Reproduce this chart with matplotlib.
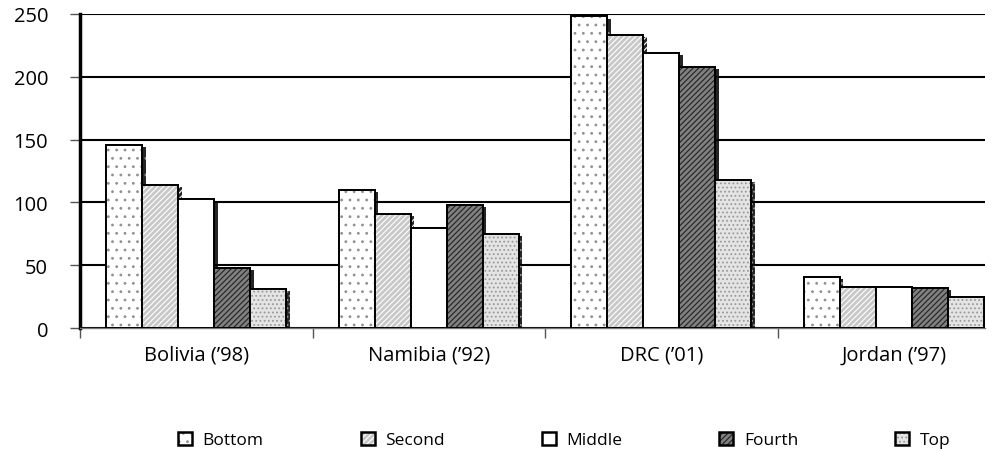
import matplotlib
matplotlib.use("Agg")
import matplotlib.pyplot as plt
import matplotlib.patheffects as pe
from matplotlib.patches import Patch
import numpy as np

plt.rcParams['font.family'] = ['Open Sans', 'DejaVu Sans']
plt.rcParams['hatch.linewidth'] = 0.8

categories = ["Bolivia (’98)", "Namibia (’92)", "DRC (’01)", "Jordan (’97)"]
series_names = ["Bottom", "Second", "Middle", "Fourth", "Top"]
bottom = [146, 110, 248, 41]
second = [114, 91, 233, 33]
middle = [103, 80, 219, 33]
fourth = [48, 98, 208, 32]
top = [31, 75, 118, 25]
values = [bottom, second, middle, fourth, top]
yticks = [0, 50, 100, 150, 200, 250]

faces = ['white', '#c8c8c8', 'white', '#808080', '#e4e4e4']
hatches = ['..', '//////', '', '//////', '....']
hatch_cols = ['#909090', '#ffffff', 'black', '#222222', '#9a9a9a']

fig = plt.figure(figsize=(10.04, 4.52), dpi=100)
ax = fig.add_axes([0.0797, 0.272, 0.901, 0.695])

x = np.arange(len(categories))
w = 0.155
for i, vals in enumerate(values):
    pos = x + (i - 2) * w
    bars = ax.bar(pos, vals, width=w, facecolor=faces[i], edgecolor='black',
                  linewidth=1.4, hatch=hatches[i], zorder=3,
                  path_effects=[pe.withSimplePatchShadow(offset=(2.5, -1.5), shadow_rgbFace='black', alpha=0.85), pe.Normal()])
    for b in bars:
        b._hatch_color = matplotlib.colors.to_rgba(hatch_cols[i])

ax.set_xlim(-0.5, 3.39)
ax.set_ylim(0, 250)
ax.set_yticks(yticks)
ax.set_yticklabels([str(t) for t in yticks], fontsize=14.5)
ax.tick_params(axis='y', length=7, width=1, direction='out', pad=16, color='#555555')
ax.yaxis.grid(True, color='black', linewidth=1.5, zorder=0)
ax.set_axisbelow(True)

ax.set_xticks(x)
ax.set_xticklabels(categories, fontsize=14.5)
ax.tick_params(axis='x', length=0, pad=12)
ax.set_xticks(np.arange(len(categories)) - 0.5, minor=True)
ax.tick_params(axis='x', which='minor', length=7, width=1, color='#555555')

for s in ['top', 'right']:
    ax.spines[s].set_visible(False)
ax.spines['left'].set_linewidth(2.5)
ax.spines['bottom'].set_linewidth(1)
ax.spines['bottom'].set_color('#777777')

handles = []
for i in range(5):
    p = Patch(facecolor=faces[i], edgecolor='black', hatch=hatches[i], linewidth=1.8, label=series_names[i])
    handles.append(p)
leg = fig.legend(handles=handles, loc='center', bbox_to_anchor=(0.562, 0.024), ncol=5,
                 frameon=False, fontsize=12.5, handlelength=0.8, handleheight=0.8,
                 columnspacing=5.6, handletextpad=0.6)
for i, p in enumerate(leg.get_patches()):
    p._hatch_color = matplotlib.colors.to_rgba(hatch_cols[i])

fig.savefig("out.png", dpi=100)
